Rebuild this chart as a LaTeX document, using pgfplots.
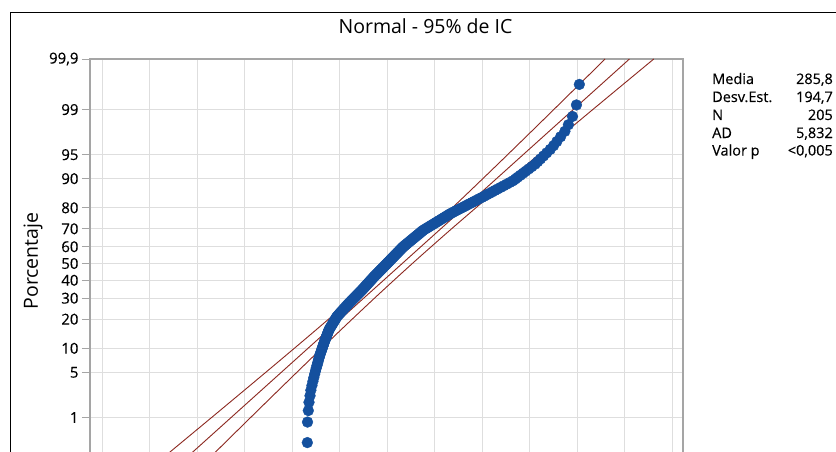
\documentclass[border=0pt]{standalone}
\usepackage{fontspec}
\setmainfont{Open Sans}
\newfontfamily\heavysans[FakeBold=0.3]{Open Sans}
\usepackage{pgfplots}
\pgfplotsset{compat=1.18}
\definecolor{ptblue}{RGB}{20,80,158}
\definecolor{cired}{RGB}{140,40,32}
\definecolor{gridgray}{RGB}{222,222,222}
\definecolor{framegray}{RGB}{165,165,165}
\begin{document}
\begin{tikzpicture}
\useasboundingbox (0pt,0pt) rectangle (836pt,-452pt);
\clip (0pt,0pt) rectangle (836pt,-452pt);
\fill[white] (0pt,0pt) rectangle (836pt,-452pt);
\draw[black, line width=1pt] (10.5pt,-700pt) -- (10.5pt,-12.5pt) -- (950pt,-12.5pt);
\node[font=\fontsize{19.5}{22}\selectfont] at (425.5pt,-26pt) {Normal - 95\% de IC};
\node[rotate=90, font=\fontsize{19.5}{22}\selectfont] at (33pt,-261pt) {Porcentaje};
\begin{axis}[
  at={(90pt,-59pt)}, anchor=north west,
  scale only axis, width=593pt, height=409pt,
  xmin=-531.6, xmax=1028.9,
  ymin=-3.0902, ymax=3.0902,
  xtick={-500,-375,...,1000}, xticklabels={},
  ytick={-2.3263,-1.6449,-1.2816,-0.8416,-0.5244,-0.2533,0,0.2533,0.5244,0.8416,1.2816,1.6449,2.3263,3.0902},
  yticklabels={1,5,10,20,30,40,50,60,70,80,90,95,99,{99,9}},
  yticklabel style={font=\heavysans\fontsize{15}{17}\selectfont, text=black},
  grid=major,
  major grid style={gridgray, line width=0.9pt},
  axis line style={framegray, line width=1.2pt},
  tick align=outside,
  major tick length=8pt,
  tick style={framegray, line width=0.8pt},
  ytick pos=left, xtick pos=bottom,
  clip=true,
]
% fitted line and 95% CI bands
\addplot[cired, line width=0.9pt] coordinates {(-307.95,-3.0902) (887.95,3.0902)};
\addplot[cired, line width=0.9pt, smooth] coordinates {
(-371.99,-3.0902) (-247.88,-2.5) (-143.16,-2) (-39.10,-1.5) (63.86,-1) (164.98,-0.5) (263.35,0) (358.48,0.5) (450.86,1) (541.40,1.5) (630.84,2) (719.62,2.5) (823.91,3.0902)};
\addplot[cired, line width=0.9pt, smooth] coordinates {
(-243.91,-3.0902) (-139.62,-2.5) (-50.84,-2) (38.60,-1.5) (129.14,-1) (221.52,-0.5) (316.65,0) (415.02,0.5) (516.14,1) (619.10,1.5) (723.16,2) (827.88,2.5) (951.99,3.0902)};
% data points
\addplot[only marks, mark=*, mark size=5.4pt, mark options={fill=ptblue, draw=ptblue}] coordinates {
(40.3,-2.706) (40.8,-2.396) (42.9,-2.222) (44.7,-2.097) (47.4,-1.998) (49.6,-1.915) (52.4,-1.843) (55.0,-1.781) (57.4,-1.724) (59.6,-1.672) (61.7,-1.625) (63.8,-1.580) (65.8,-1.539) (67.6,-1.501) (69.4,-1.464) (71.0,-1.429) (72.6,-1.396) (74.5,-1.365) (76.3,-1.334) (78.0,-1.305) (79.7,-1.277) (81.3,-1.250) (82.8,-1.224) (84.3,-1.199) (85.9,-1.174) (87.5,-1.150) (89.0,-1.127) (90.5,-1.104) (92.0,-1.082) (93.4,-1.060) (94.8,-1.039) (96.2,-1.018) (97.6,-0.998) (99.7,-0.978) (101.8,-0.958) (103.8,-0.939) (105.7,-0.921) (107.7,-0.902) (109.6,-0.884) (111.5,-0.866) (113.3,-0.849) (115.1,-0.831) (116.9,-0.814) (118.9,-0.797) (121.6,-0.780) (124.1,-0.764) (126.6,-0.748) (129.1,-0.732) (131.7,-0.716) (134.2,-0.700) (136.6,-0.685) (139.0,-0.670) (141.5,-0.654) (143.8,-0.639) (146.2,-0.624) (148.4,-0.610) (150.9,-0.595) (153.2,-0.581) (155.8,-0.566) (158.2,-0.552) (160.6,-0.538) (163.0,-0.524) (165.4,-0.510) (167.8,-0.496) (170.2,-0.482) (172.6,-0.468) (174.8,-0.455) (177.2,-0.441) (179.4,-0.428) (181.8,-0.414) (184.0,-0.401) (186.1,-0.388) (188.2,-0.375) (190.2,-0.362) (192.3,-0.349) (194.3,-0.336) (196.4,-0.323) (198.4,-0.310) (200.5,-0.297) (202.4,-0.285) (204.4,-0.272) (206.5,-0.259) (208.4,-0.247) (210.4,-0.234) (212.5,-0.221) (214.4,-0.209) (216.5,-0.196) (218.5,-0.184) (220.8,-0.171) (222.8,-0.159) (224.9,-0.147) (226.9,-0.135) (229.1,-0.122) (231.2,-0.110) (233.2,-0.098) (235.3,-0.086) (237.5,-0.073) (239.6,-0.061) (241.6,-0.049) (243.7,-0.037) (245.9,-0.024) (247.9,-0.012) (250.0,0)
(252.0,0.012) (254.0,0.024) (256.2,0.037) (258.3,0.049) (260.3,0.061) (262.3,0.073) (264.5,0.086) (266.5,0.098) (268.5,0.110) (270.5,0.122) (272.7,0.135) (274.8,0.147) (276.8,0.159) (278.8,0.171) (281.0,0.184) (283.0,0.196) (285.2,0.209) (287.2,0.221) (289.4,0.234) (291.6,0.247) (294.0,0.259) (296.7,0.272) (299.5,0.285) (302.0,0.297) (304.7,0.310) (307.5,0.323) (310.2,0.336) (312.9,0.349) (315.7,0.362) (318.4,0.375) (321.1,0.388) (323.9,0.401) (326.6,0.414) (329.6,0.428) (332.3,0.441) (335.2,0.455) (338.0,0.468) (340.9,0.482) (343.9,0.496) (347.5,0.510) (351.5,0.524) (355.5,0.538) (359.5,0.552) (363.5,0.566) (367.7,0.581) (371.7,0.595) (376.0,0.610) (380.0,0.624) (384.2,0.639) (388.5,0.654) (393.0,0.670) (397.3,0.685) (401.6,0.700) (406.1,0.716) (410.7,0.732) (415.2,0.748) (420.5,0.764) (425.9,0.780) (431.6,0.797) (437.4,0.814) (443.1,0.831) (449.1,0.849) (454.9,0.866) (460.9,0.884) (467.0,0.902) (473.4,0.921) (479.5,0.939) (485.9,0.958) (492.6,0.978) (499.3,0.998) (505.9,1.018) (512.7,1.039) (519.6,1.060) (526.8,1.082) (533.9,1.104) (541.5,1.127) (549.0,1.150) (556.8,1.174) (565.0,1.199) (573.1,1.224) (581.6,1.250) (587.9,1.277) (594.3,1.305) (601.1,1.334) (608.2,1.365) (615.4,1.396) (623.1,1.429) (631.2,1.464) (639.7,1.501) (646.5,1.539) (653.8,1.580) (661.9,1.625) (670.3,1.672) (679.5,1.724) (688.4,1.781) (696.9,1.843) (706.8,1.915) (718.1,1.998) (727.3,2.097) (738.1,2.222) (748.5,2.396) (756.1,2.706)
};
\end{axis}
\begin{scope}[font=\heavysans\fontsize{14.5}{16}\selectfont]
\node[anchor=base west, inner sep=0] at (712pt,-84pt) {Media};
\node[anchor=base west, inner sep=0] at (712pt,-102pt) {Desv.Est.};
\node[anchor=base west, inner sep=0] at (712pt,-120pt) {N};
\node[anchor=base west, inner sep=0] at (712pt,-138pt) {AD};
\node[anchor=base west, inner sep=0] at (712pt,-155.5pt) {Valor p};
\node[anchor=base east, inner sep=0] at (833pt,-84pt) {285,8};
\node[anchor=base east, inner sep=0] at (833pt,-102pt) {194,7};
\node[anchor=base east, inner sep=0] at (833pt,-120pt) {205};
\node[anchor=base east, inner sep=0] at (833pt,-138pt) {5,832};
\node[anchor=base east, inner sep=0] at (833pt,-155.5pt) {<0,005};
\end{scope}
\end{tikzpicture}
\end{document}
